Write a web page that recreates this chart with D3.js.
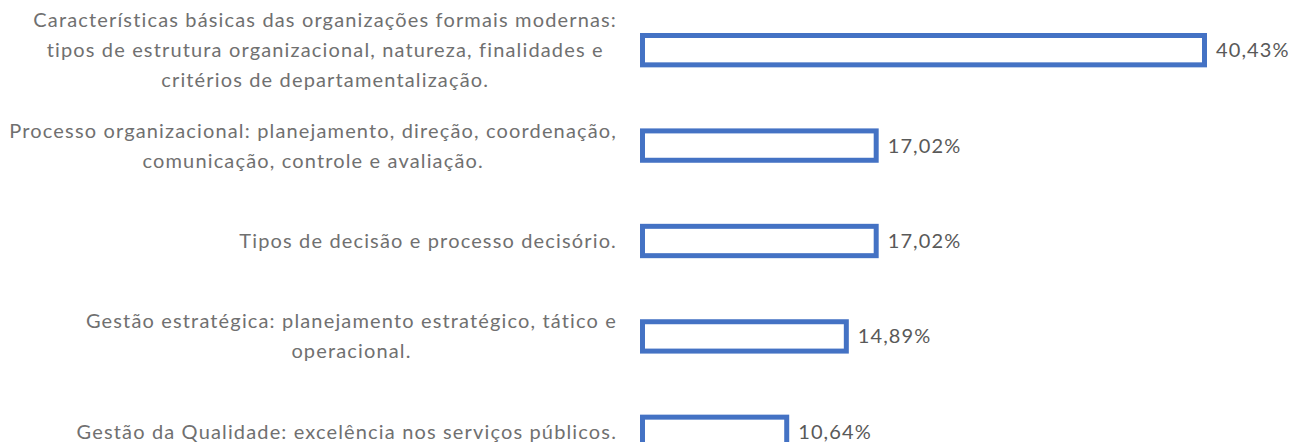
<!DOCTYPE html>
<html>
<head>
<meta charset="utf-8">
<script src="https://cdn.jsdelivr.net/npm/d3@7"></script>
<style>
  body { margin: 0; background: #fff; }
  svg { display: block; }
</style>
</head>
<body>
<div id="chart"></div>
<script>
// category labels, already broken into lines like in the original chart
const categories = [
  ["Características básicas das organizações formais modernas:",
   "tipos de estrutura organizacional, natureza, finalidades e",
   "critérios de departamentalização."],
  ["Processo organizacional: planejamento, direção, coordenação,",
   "comunicação, controle e avaliação."],
  ["Tipos de decisão e processo decisório."],
  ["Gestão estratégica: planejamento estratégico, tático e",
   "operacional."],
  ["Gestão da Qualidade: excelência nos serviços públicos."]
];
const values = [40.43, 17.02, 17.02, 14.89, 10.64];
const valueLabels = ["40,43%", "17,02%", "17,02%", "14,89%", "10,64%"];

const width = 1294, height = 442;
const margin = { left: 640, top: 33, bottom: -7 };
const labelRight = 617;
const strokeW = 5;
const lineH = 30;
const font = "Lato, 'Open Sans', sans-serif";

const svg = d3.select("#chart").append("svg")
  .attr("width", width)
  .attr("height", height);

const data = values.map((v, i) => ({ v: v, lines: categories[i], label: valueLabels[i], i: i }));

const x = d3.scaleLinear()
  .domain([0, 40.43])
  .range([margin.left, 1207]);

const y = d3.scaleBand()
  .domain(d3.range(values.length))
  .range([margin.top, height - margin.bottom])
  .paddingInner(0.64)
  .paddingOuter(0);

// bars: outline only
svg.selectAll("rect.bar")
  .data(data)
  .join("rect")
  .attr("class", "bar")
  .attr("x", x(0) + strokeW / 2)
  .attr("y", d => y(d.i) + strokeW / 2)
  .attr("width", d => x(d.v) - x(0) - strokeW)
  .attr("height", y.bandwidth() - strokeW)
  .attr("fill", "#fff")
  .attr("stroke", "#4472C4")
  .attr("stroke-width", strokeW);

// value labels
svg.selectAll("text.val")
  .data(data)
  .join("text")
  .attr("class", "val")
  .attr("x", d => x(d.v) + 9)
  .attr("y", d => y(d.i) + y.bandwidth() / 2)
  .attr("dy", "0.35em")
  .attr("font-family", font)
  .attr("font-size", 20)
  .attr("letter-spacing", 1.1)
  .attr("fill", "#595959")
  .text(d => d.label);

// category labels, centred lines, block right-aligned against the bars
const groups = svg.selectAll("g.cat")
  .data(data)
  .join("g")
  .attr("class", "cat");

groups.each(function (d) {
  const g = d3.select(this);
  const cy = y(d.i) + y.bandwidth() / 2;
  const t = g.append("text")
    .attr("font-family", font)
    .attr("font-size", 20)
    .attr("letter-spacing", 1.15)
    .attr("fill", "#707070")
    .attr("text-anchor", "middle");
  const spans = t.selectAll("tspan")
    .data(d.lines)
    .join("tspan")
    .attr("dy", "0.35em")
    .attr("y", (l, k) => cy + (k - (d.lines.length - 1) / 2) * lineH)
    .text(l => l);
  let maxW = 0;
  spans.each(function () { maxW = Math.max(maxW, this.getComputedTextLength()); });
  spans.attr("x", labelRight - maxW / 2);
});
</script>
</body>
</html>
